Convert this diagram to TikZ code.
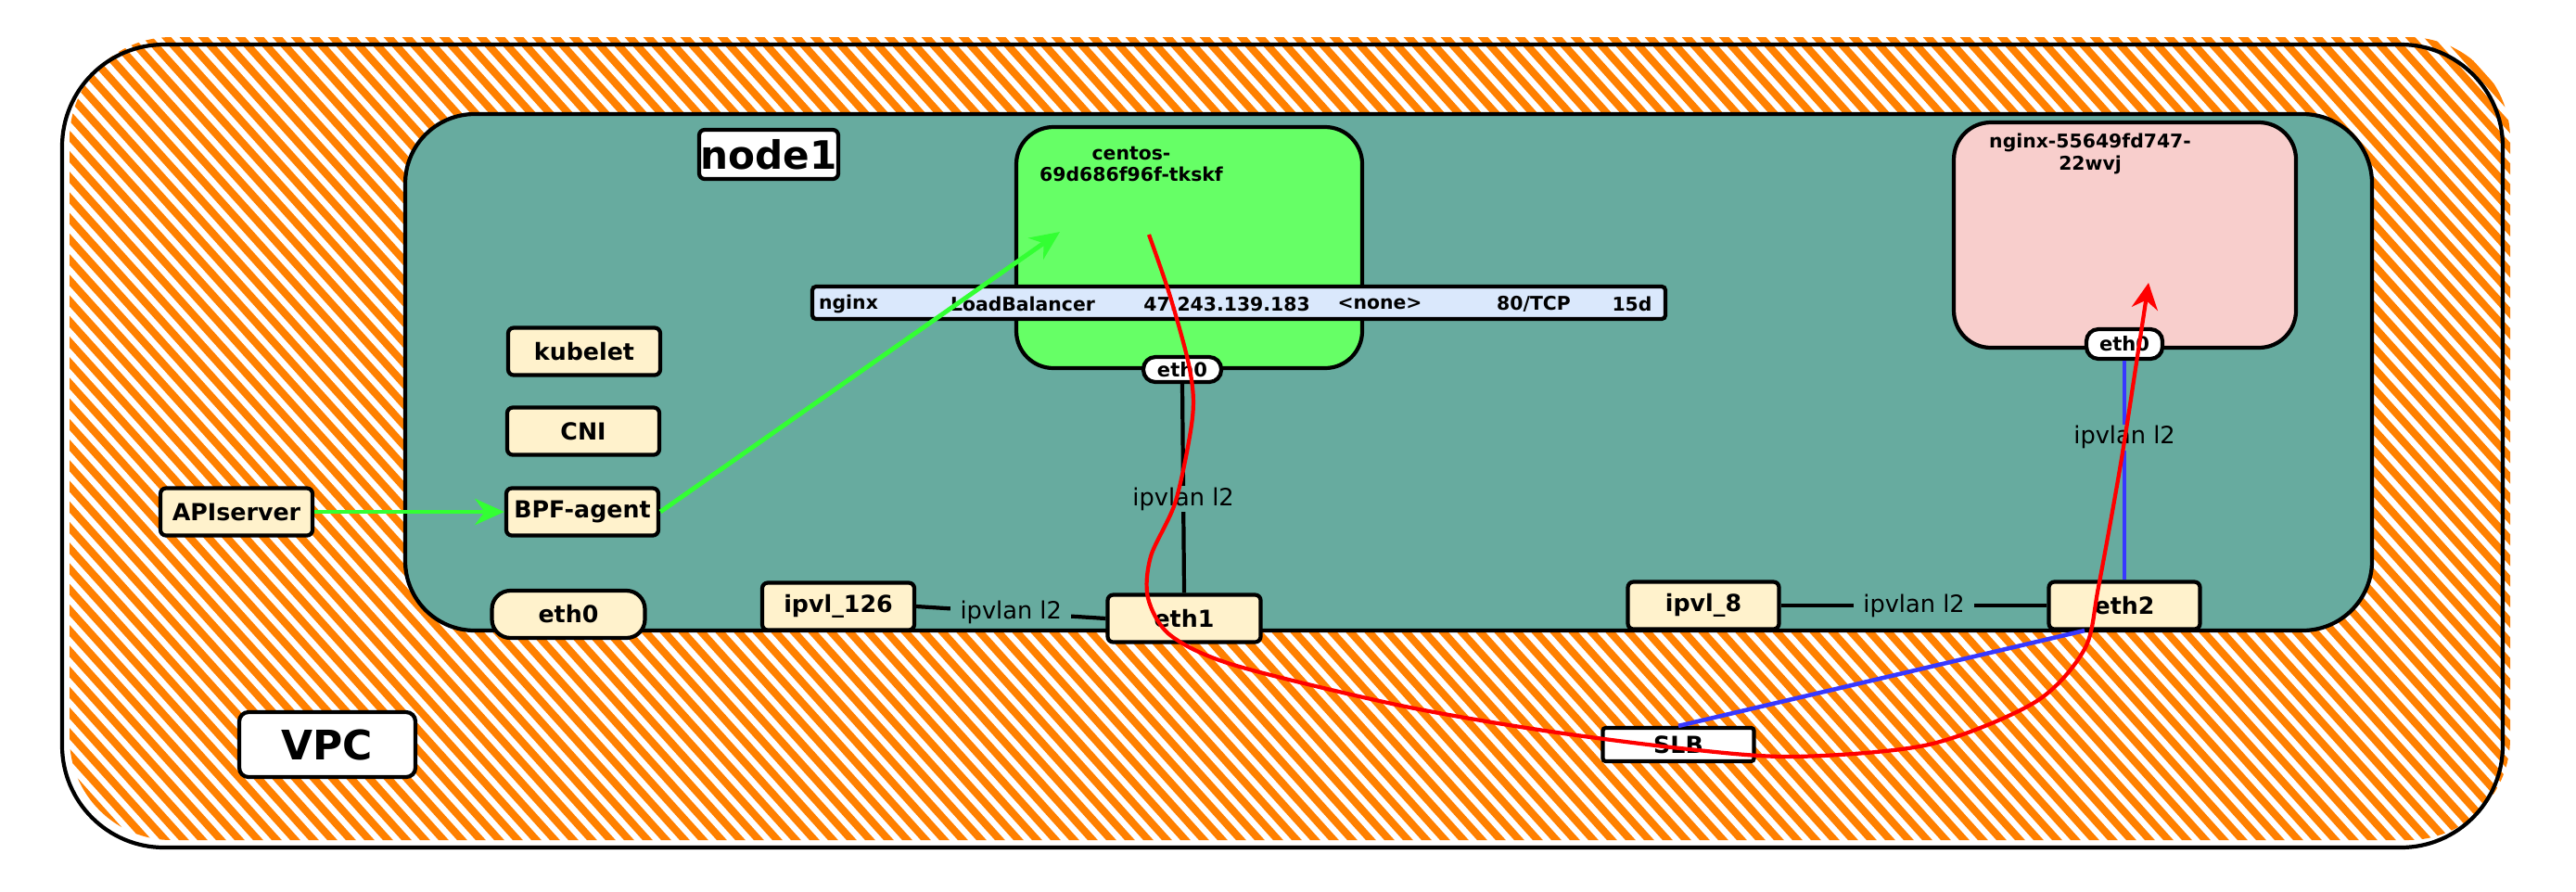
\documentclass[tikz,border=0pt]{standalone}
\usepackage{fontspec}
\setmainfont{DejaVu Sans}
\usetikzlibrary{arrows.meta}

\definecolor{hatchorange}{HTML}{FF8000}
\definecolor{nodeteal}{HTML}{67AB9F}
\definecolor{boxcream}{HTML}{FFF2CC}
\definecolor{podgreen}{HTML}{66FF66}
\definecolor{podpink}{HTML}{F8CECC}
\definecolor{svcblue}{HTML}{DAE8FC}
\definecolor{flowgreen}{HTML}{33FF33}
\definecolor{flowred}{HTML}{FF0000}
\definecolor{flowblue}{HTML}{3838FF}

\begin{document}
\begin{tikzpicture}[x=1cm,y=-1cm,
    comp/.style={draw, line width=1.2pt, fill=boxcream, rounded corners=0.06cm,
      minimum width=1.64cm, minimum height=0.51cm, inner sep=0pt,
      font=\fontsize{7.2}{8.6}\selectfont\bfseries},
    pill/.style={draw, line width=1.2pt, fill=white, rounded corners=0.13cm,
      inner sep=0pt, font=\fontsize{6}{7}\selectfont\bfseries},
    pod/.style={draw, line width=1.2pt, rounded corners=0.4cm, inner sep=0pt},
    podname/.style={align=center, font=\fontsize{5.8}{6.6}\selectfont\bfseries},
    svctext/.style={inner sep=0pt, font=\fontsize{5.8}{7}\selectfont\bfseries},
    linklabel/.style={fill=nodeteal, text=black, inner xsep=3pt, inner ysep=0.5pt,
      font=\fontsize{7.3}{8.6}\selectfont},
    link/.style={line width=1.2pt},
    flow/.style={line width=1.4pt, -{Stealth[length=9pt,width=8pt]}},
  ]
  \useasboundingbox (0,0) rectangle (27.78,9.61);

  % VPC area, hatched
  \begin{scope}
    \clip[rounded corners=1.1cm] (0.75,0.40) rectangle (27.07,9.06);
    \foreach \x in {-8.5,-8.3,...,27.3}
      \draw[hatchorange, line width=2.3pt] (\x,0.3) -- ++(8.1,9.0);
  \end{scope}
  \draw[line width=1.2pt, rounded corners=1.1cm] (0.67,0.48) rectangle (26.99,9.14);

  % node1 host
  \draw[line width=1.2pt, fill=nodeteal, rounded corners=0.75cm] (4.37,1.23) rectangle (25.58,6.80);
  \node[draw, line width=1.2pt, fill=white, rounded corners=0.06cm, minimum width=1.5cm,
    minimum height=0.53cm, inner sep=0pt, font=\fontsize{12}{14}\selectfont\bfseries]
    (node1) at (8.29,1.665) {node1};

  % Pods
  \node[pod, fill=podgreen, minimum width=3.73cm, minimum height=2.60cm] (centos) at (12.825,2.67) {};
  \node[podname] (centosname) at (12.20,1.77) {centos-\\69d686f96f-tkskf};
  \node[pod, fill=podpink, minimum width=3.69cm, minimum height=2.43cm] (nginxpod) at (22.915,2.535) {};
  \node[podname] (nginxname) at (22.54,1.66) {nginx-55649fd747-\\22wvj};

  % Service row
  \node[draw, line width=1.2pt, fill=svcblue, minimum width=9.20cm, minimum height=0.35cm,
    inner sep=0pt, rounded corners=0.04cm] (svc) at (13.36,3.265) {};
  \foreach \x/\t [count=\i] in {9.15/nginx, 11.03/LoadBalancer, 13.23/47.243.139.183,
      14.88/{<none>}, 16.54/{80/TCP}, 17.60/15d}
    \node[svctext] (svc\i) at (\x,3.28) {\t};

  % Pod interfaces
  \node[pill, minimum width=0.84cm, minimum height=0.27cm] (centoseth0) at (12.75,3.985) {eth0};
  \node[pill, minimum width=0.82cm, minimum height=0.32cm] (nginxeth0) at (22.91,3.71) {eth0};

  % Host components
  \node[comp] (kubelet) at (6.30,3.79) {kubelet};
  \node[comp] (cni) at (6.29,4.65) {CNI};
  \node[comp] (bpf) at (6.28,5.52) {BPF-agent};
  \node[comp] (apiserver) at (2.55,5.52) {APIserver};
  \node[comp, rounded corners=0.2cm, minimum width=1.65cm] (hosteth0) at (6.13,6.625) {eth0};
  \node[comp] (ipvl126) at (9.04,6.54) {ipvl\_126};
  \node[comp, minimum width=1.65cm] (eth1) at (12.77,6.67) {eth1};
  \node[comp, minimum width=1.63cm] (ipvl8) at (18.37,6.53) {ipvl\_8};
  \node[comp, minimum width=1.63cm] (eth2) at (22.91,6.53) {eth2};
  \node[comp, fill=white, minimum width=1.63cm, minimum height=0.36cm, rounded corners=0.03cm] (slb) at (18.10,8.03) {SLB};
  \node[comp, fill=white, minimum width=1.9cm, minimum height=0.7cm, rounded corners=0.1cm,
    font=\fontsize{12.5}{15}\selectfont\bfseries] (vpc) at (3.53,8.03) {VPC};

  % ipvlan links
  \draw[link] (ipvl126.east) -- node[linklabel] {ipvlan l2} (eth1.west);
  \draw[link] (ipvl8.east) -- node[linklabel] {ipvlan l2} (eth2.west);
  \draw[link] (centoseth0.south) -- node[linklabel, pos=0.55] {ipvlan l2} (eth1.north);
  \draw[link, flowblue, line width=1.3pt] (nginxeth0.south) -- node[linklabel, pos=0.35] {ipvlan l2} (eth2.north);
  \coordinate (eth2foot) at (22.48,6.80);
  \draw[link, flowblue, line width=1.3pt] (slb.north) -- (eth2foot);

  % control path
  \coordinate (podtarget) at (11.43,2.50);
  \draw[flow, flowgreen] (apiserver.east) -- (bpf.west);
  \draw[flow, flowgreen] (bpf.east) -- (podtarget);

  % traffic path
  \coordinate (redstart) at (12.39,2.53);
  \coordinate (redend) at (23.17,3.05);
  \draw[flowred, line width=1.2pt, -{Stealth[length=8pt,width=8pt]}] plot[smooth, tension=0.5]
    coordinates {(redstart) (12.62,3.20) (12.83,3.98) (12.86,4.50) (12.68,5.40) (12.41,6.00)
      (12.38,6.45) (12.62,6.85) (13.30,7.17) (15.06,7.60) (16.59,7.87) (18.12,8.07) (19.34,8.16)
      (20.80,8.03) (21.95,7.57) (22.48,7.00) (22.63,6.33) (22.87,5.00) (23.07,3.71) (redend)};
\end{tikzpicture}
\end{document}
